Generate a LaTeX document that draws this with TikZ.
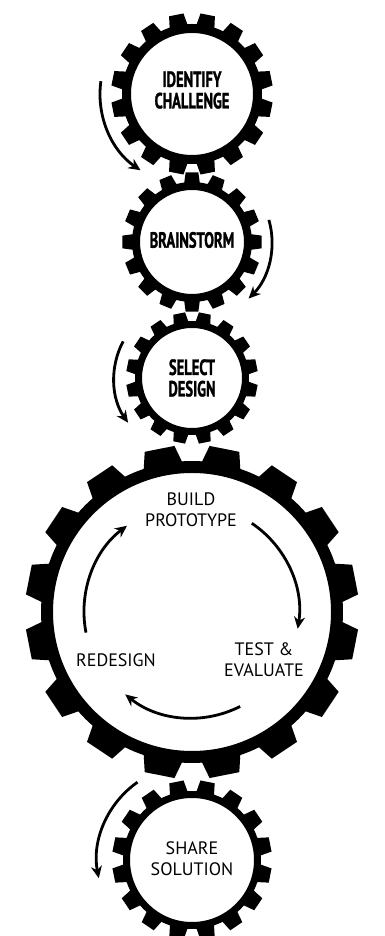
\documentclass[tikz,border=0pt]{standalone}
\usepackage{fontspec}
\setsansfont{PT Sans}
\newfontfamily\cogfont[FakeStretch=0.66, FakeBold=1.2]{PT Sans}
\usetikzlibrary{arrows.meta, calc}

\tikzset{
  pics/cog/.style n args={4}{code={
    % #1 tip radius, #2 root radius, #3 hole radius, #4 angle of first tooth
    \fill[black, even odd rule] ({#4-7.4}:#2)
      \foreach \k in {0,...,15}{
        -- ({#4+22.5*\k-5.2}:#1) -- ({#4+22.5*\k+5.2}:#1)
        -- ({#4+22.5*\k+7.4}:#2)
        arc[start angle={#4+22.5*\k+7.4}, end angle={#4+22.5*\k+15.1}, radius=#2]
      } -- cycle
      (0,0) circle[radius=#3];
  }}
}

\begin{document}
\begin{tikzpicture}[
  x=1pt, y=1pt,
  >={Stealth[length=12pt,width=11pt]},
  steptext/.style={
    font=\cogfont\bfseries\fontsize{22}{21.5}\selectfont,
    align=center, inner sep=0pt
  },
  looptext/.style={
    font=\sffamily\fontsize{18}{21}\selectfont,
    align=center, inner sep=0pt
  },
  turn/.style={->, line width=2.8pt},
]
\fill[white] (0,0) rectangle (384,936);
\useasboundingbox (0,0) rectangle (384,936);

% --- gear centres ---
\coordinate (g1) at (192,842);
\coordinate (g2) at (192,694);
\coordinate (g3) at (192,558);
\coordinate (g4) at (192,324);
\coordinate (g5) at (192,76);

% --- gears ---
\pic at (g1) {cog={81}{70}{61}{11.25}};
\pic at (g2) {cog={70}{60}{52}{0}};
\pic at (g3) {cog={66}{57}{50}{11.25}};
\pic at (g4) {cog={167}{151}{139}{11.25}};
\pic at (g5) {cog={80}{69}{62}{11.25}};

% --- labels ---
\node[steptext] (identify) at ($(g1)+(0,4)$) {IDENTIFY\\CHALLENGE};
\node[steptext] (brainstorm) at ($(g2)+(0,2)$) {BRAINSTORM};
\node[steptext] (select) at (g3) {SELECT\\DESIGN};
\node[looptext] (build) at (191,426) {BUILD\\PROTOTYPE};
\node[looptext] (test) at (264,276) {TEST \&\\EVALUATE};
\node[looptext] (redesign) at (116,276) {REDESIGN};
\node[looptext] (share) at ($(g5)+(0,1)$) {SHARE\\SOLUTION};

% --- turning arrows ---
\draw[turn] ($(g1)+(172:92)$) arc[start angle=172, end angle=236, radius=92];
\draw[turn] ($(g2)+(16:80)$) arc[start angle=16, end angle=-45, radius=80];
\draw[turn] ($(g3)+(152:78)$) arc[start angle=152, end angle=215, radius=78];

\draw[turn] ($(g4)+(56:107)$) arc[start angle=56, end angle=-9, radius=107];
\draw[turn] ($(g4)+(-63:106)$) arc[start angle=-63, end angle=-129, radius=106];
\draw[turn] ($(g4)+(191:108)$) arc[start angle=191, end angle=127, radius=108];

\draw[turn] ($(g5)+(125:95)$) arc[start angle=125, end angle=191, radius=95];

\end{tikzpicture}
\end{document}
